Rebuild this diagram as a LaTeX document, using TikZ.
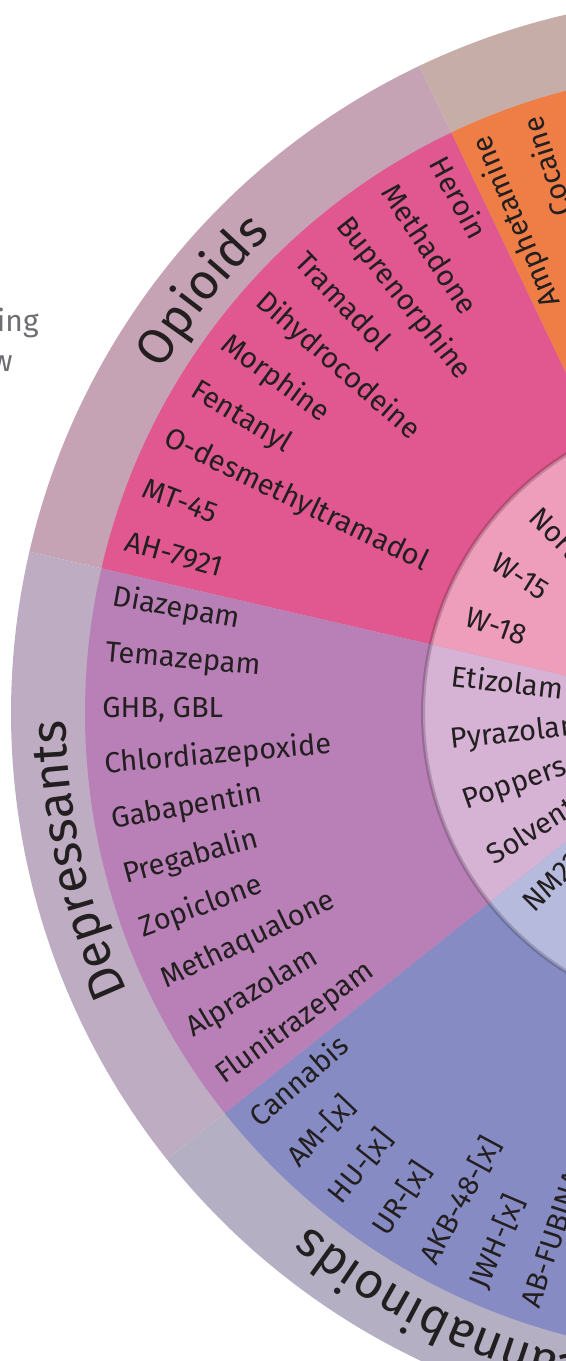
\documentclass[tikz,border=0pt]{standalone}
\usepackage{fontspec}
\setmainfont{Fira Sans}
\usepackage{tikz}
\usetikzlibrary{decorations.text}

\definecolor{ink}{HTML}{231F20}
\definecolor{paragray}{HTML}{6D6E71}
\definecolor{opiouter}{HTML}{C6A2B5}
\definecolor{stiouter}{HTML}{C7ADA8}
\definecolor{depouter}{HTML}{BDACC2}
\definecolor{canouter}{HTML}{B4AFC3}
\definecolor{opimid}{HTML}{E0588F}
\definecolor{stimid}{HTML}{EE7E45}
\definecolor{depmid}{HTML}{B980B7}
\definecolor{canmid}{HTML}{868BC4}
\definecolor{opiinner}{HTML}{EE9DBB}
\definecolor{depinner}{HTML}{D6B2D4}
\definecolor{caninner}{HTML}{B6BADC}

\newcommand{\catfont}{\fontsize{25}{25}\selectfont}
\newcommand{\pieslice}[4]{\fill[#1] (0,0) -- (#2:#4) arc[start angle=#2, end angle=#3, radius=#4] -- cycle;}
\newcommand{\catlabel}[4]{\path[decorate, decoration={text along path, text align=center,
    text color=ink, text={|\catfont|#1}}] (#2:#4) arc[start angle=#2, end angle=#3, radius=#4];}

\begin{document}
\begin{tikzpicture}[x=0.5pt, y=0.5pt,
      drug/.style = {anchor=mid west, inner sep=0pt, text=ink,
                     font=\fontsize{14.5}{14.5}\selectfont},
   drugout/.style = {drug, anchor=mid east},
      para/.style = {anchor=base east, inner sep=0pt, text=paragray,
                     font=\fontsize{15}{15}\selectfont},
  innerrim/.style = {draw=black, draw opacity=0.18, line width=2pt}
                   ]
    \useasboundingbox (0,0) rectangle (566,-1361);
    \clip (0,0) rectangle (566,-1361);

    % Define the radii of the rings
    \def\Rout{717}
    \def\Rmid{643}
    \def\Rin{305}

    % end of the lines of text on the left
    \node[para] (line1) at (39,-331.7) {ing};
    \node[para] (line2) at (13,-371.7) {w};

    \begin{scope}[shift={(728,-713)}]
    % outer ring: the groups
    \pieslice{stiouter}{63.5}{115.5}{\Rout}
    \pieslice{opiouter}{115.5}{167}{\Rout}
    \pieslice{depouter}{167}{218.5}{\Rout}
    \pieslice{canouter}{218.5}{270}{\Rout}

    % middle ring
    \pieslice{stimid}{63.5}{115.5}{\Rmid}
    \pieslice{opimid}{115.5}{167}{\Rmid}
    \pieslice{depmid}{167}{218.5}{\Rmid}
    \pieslice{canmid}{218.5}{270}{\Rmid}

    % inner circle
    \pieslice{opiinner}{115.5}{167}{\Rin}
    \pieslice{depinner}{167}{218.5}{\Rin}
    \pieslice{caninner}{218.5}{270}{\Rin}
    \draw[innerrim] (0,0) circle[radius=\Rin];

    % group names
    \catlabel{Opioids}{167}{115.5}{662}
    \catlabel{Depressants}{218.5}{167}{662}
    \catlabel{Cannabinoids}{270}{218.5}{662}

    % middle ring labels
    \node[drugout, rotate=112.9] (sti1) at (112.9:627) {Amphetamine};
    \node[drugout, rotate=107.8] (sti2) at (107.8:627) {Cocaine};

    \foreach \drug [count=\i from 0] in {Heroin, Methadone, Buprenorphine, Tramadol,
        Dihydrocodeine, Morphine, Fentanyl, O-desmethyltramadol, MT-45, AH-7921}
        \node[drug, rotate={298.1+5.15*\i}] (opi\i) at ({118.1+5.15*\i}:626) {\drug};

    \foreach \drug [count=\i from 0] in {Diazepam, Temazepam, {GHB, GBL}, Chlordiazepoxide,
        Gabapentin, Pregabalin, Zopiclone, Methaqualone, Alprazolam, Flunitrazepam}
        \node[drug, rotate={349.6+5.15*\i}] (dep\i) at ({169.6+5.15*\i}:626) {\drug};

    \foreach \drug [count=\i from 0] in {Cannabis, {AM-[x]}, {HU-[x]}, {UR-[x]},
        {AKB-48-[x]}, {JWH-[x]}, AB-FUBINACA}
        \node[drug, rotate={41.1+5.15*\i}] (can\i) at ({221.1+5.15*\i}:626) {\drug};

    % inner circle labels
    \node[drug, rotate=314.8] (nopi1) at (134.8:279) {Nortilidine};
    \node[drug, rotate=327.7] (nopi2) at (147.7:279) {W-15};
    \node[drug, rotate=340.6] (nopi3) at (160.6:279) {W-18};

    \foreach \drug [count=\i from 0] in {Etizolam, Pyrazolam, Poppers, Solvents}
        \node[drug, rotate={353.4+12.9*\i}] (ndep\i) at ({173.4+12.9*\i}:279) {\drug};

    \node[drug, rotate=44.9] (ncan0) at (224.9:279) {NM2201};
    \end{scope}
\end{tikzpicture}
\end{document}
